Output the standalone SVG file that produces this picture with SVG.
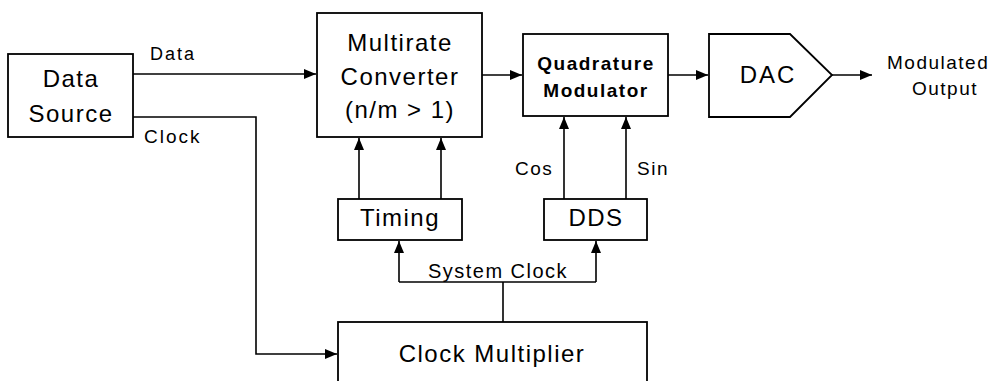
<svg xmlns="http://www.w3.org/2000/svg" width="1001" height="381" viewBox="0 0 1001 381">
<defs>
<marker id="arr" markerUnits="userSpaceOnUse" markerWidth="13" markerHeight="11" refX="12" refY="5" orient="auto">
<path d="M0,0 L12,5 L0,10 z" fill="#000"/>
</marker>
<style>
.box{fill:#fff;stroke:#000;stroke-width:1.8}
.ln{fill:none;stroke:#000;stroke-width:1.6}
.t{font-family:"Liberation Sans",Arial,sans-serif;fill:#000;letter-spacing:1.5px}
.big{font-size:24px;text-anchor:middle}
.lbl{font-size:19px}
</style>
</defs>
<rect width="1001" height="381" fill="#fff"/>
<g id="connectors">
<path class="ln" d="M133,74 H316" marker-end="url(#arr)"/>
<path class="ln" d="M133,117 H256 V354 H337" marker-end="url(#arr)"/>
<path class="ln" d="M482,75 H522" marker-end="url(#arr)"/>
<path class="ln" d="M668,75 H708" marker-end="url(#arr)"/>
<path class="ln" d="M832,75 H872" marker-end="url(#arr)"/>
<path class="ln" d="M359,199 V138" marker-end="url(#arr)"/>
<path class="ln" d="M441,199 V138" marker-end="url(#arr)"/>
<path class="ln" d="M564,199 V117" marker-end="url(#arr)"/>
<path class="ln" d="M626,199 V117" marker-end="url(#arr)"/>
<path class="ln" d="M503,322 V282"/>
<path class="ln" d="M399,282 H596"/>
<path class="ln" d="M399,282 V241" marker-end="url(#arr)"/>
<path class="ln" d="M596,282 V241" marker-end="url(#arr)"/>
<text class="t lbl" x="150" y="60" style="font-size:18px;letter-spacing:2px">Data</text>
<text class="t lbl" x="144" y="143" style="letter-spacing:2px">Clock</text>
<text class="t lbl" x="515" y="175">Cos</text>
<text class="t lbl" x="637" y="175">Sin</text>
<text class="t" x="498" y="278" style="font-size:20px;text-anchor:middle">System Clock</text>
</g>
<g id="data-source">
<rect class="box" x="8" y="54" width="125" height="83"/>
<text class="t big" x="71" y="87">Data</text>
<text class="t big" x="71" y="122">Source</text>
</g>
<g id="multirate-converter">
<rect class="box" x="317" y="13" width="165" height="124"/>
<text class="t big" x="400" y="51">Multirate</text>
<text class="t big" x="400" y="85">Converter</text>
<text class="t big" x="400" y="118">(n/m &gt; 1)</text>
</g>
<g id="quadrature-modulator">
<rect class="box" x="523" y="34" width="145" height="82"/>
<text class="t" x="596" y="70" style="font-size:19px;font-weight:bold;text-anchor:middle">Quadrature</text>
<text class="t" x="596" y="97" style="font-size:19px;font-weight:bold;text-anchor:middle">Modulator</text>
</g>
<g id="dac">
<polygon class="box" points="709,34 790,34 832,75 790,117 709,117"/>
<text class="t big" x="768" y="83" style="letter-spacing:2px">DAC</text>
</g>
<g id="modulated-output">
<text class="t lbl" x="887" y="69">Modulated</text>
<text class="t lbl" x="912" y="95">Output</text>
</g>
<g id="timing">
<rect class="box" x="338" y="199" width="124" height="41"/>
<text class="t big" x="400" y="226">Timing</text>
</g>
<g id="dds">
<rect class="box" x="544" y="199" width="103" height="41"/>
<text class="t big" x="596" y="226">DDS</text>
</g>
<g id="clock-multiplier">
<rect class="box" x="338" y="322" width="309" height="70"/>
<text class="t big" x="492" y="362">Clock Multiplier</text>
</g>
</svg>
